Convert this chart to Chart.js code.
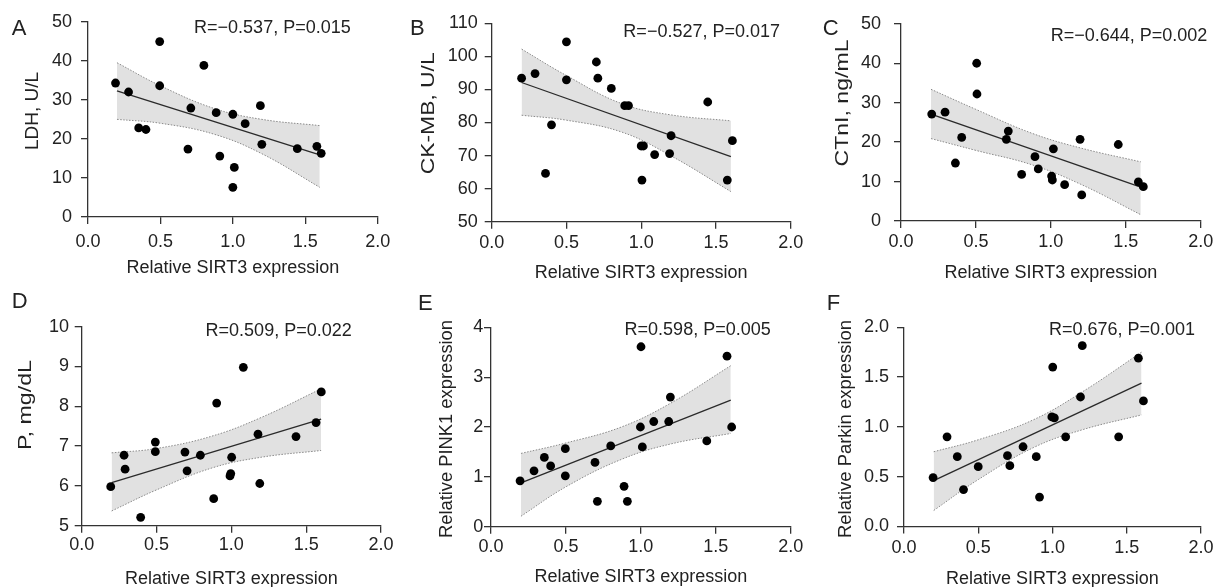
<!DOCTYPE html>
<html><head><meta charset="utf-8">
<script src="https://cdn.jsdelivr.net/npm/chart.js@4.4.1/dist/chart.umd.min.js"></script>
<style>
html,body{margin:0;padding:0;background:#fff;}
body{width:1217px;height:587px;position:relative;overflow:hidden;}
canvas{position:absolute;}
</style></head><body>
<script>
// ---------- data ----------
const xTickValues = [0, 0.5, 1, 1.5, 2];
const xTickLabels = ['0.0', '0.5', '1.0', '1.5', '2.0'];
const xTitle = 'Relative SIRT3 expression';

const fitX  = [0.2, 1.6];
const bandX = [0.2, 0.5, 0.87, 1.2, 1.6];

// A: LDH
const ldhX = [0.19,0.28,0.35,0.40,0.495,0.495,0.69,0.71,0.80,0.885,0.91,1.0,1.01,1.0,1.085,1.19,1.20,1.445,1.58,1.61];
const ldhY = [34.3,32.0,22.8,22.4,44.9,33.6,17.4,27.9,38.8,26.7,15.6,26.3,12.7,7.6,23.9,28.5,18.6,17.5,18.1,16.3];
const ldhFit = [32.3, 15.9];
const ldhUpper = [39.5, 33.6, 27.8, 25.0, 23.4];
const ldhLower = [25.0, 24.0, 21.2, 16.2, 7.6];
const ldhTicks = [0, 10, 20, 30, 40, 50];
const ldhTickLabels = ['0', '10', '20', '30', '40', '50'];

// B: CK-MB
const ckmbX = [0.20,0.29,0.36,0.40,0.50,0.50,0.70,0.71,0.80,0.89,0.915,1.0,1.015,1.005,1.09,1.19,1.20,1.445,1.576,1.61];
const ckmbY = [93.4,94.8,64.6,79.3,104.4,92.9,98.3,93.4,90.3,85.1,85.1,72.9,72.9,62.6,70.3,70.6,76.0,86.2,62.6,74.5];
const ckmbFit = [92.1, 69.7];
const ckmbUpper = [102.2, 94.2, 85.7, 82.3, 80.5];
const ckmbLower = [82.2, 80.7, 77.1, 69.9, 59.1];
const ckmbTicks = [50, 60, 70, 80, 90, 100, 110];
const ckmbTickLabels = ['50', '60', '70', '80', '90', '100', '110'];

// C: CTnI
const ctniX = [0.205,0.294,0.363,0.405,0.505,0.507,0.703,0.716,0.805,0.894,0.916,1.005,1.01,1.017,1.092,1.195,1.206,1.45,1.584,1.617];
const ctniY = [27.1,27.6,14.7,21.2,40.0,32.2,20.7,22.8,11.8,16.3,13.2,11.4,10.4,18.3,9.2,20.7,6.6,19.4,9.9,8.7];
const ctniFit = [27.1, 8.6];
const ctniUpper = [33.4, 28.3, 22.3, 18.5, 15.0];
const ctniLower = [20.9, 17.9, 14.3, 9.3, 1.6];
const ctniTicks = [0, 10, 20, 30, 40, 50];
const ctniTickLabels = ['0', '10', '20', '30', '40', '50'];

// D: P
const phosX = [0.194,0.283,0.29,0.394,0.492,0.492,0.69,0.704,0.793,0.882,0.902,0.991,0.996,1.002,1.08,1.178,1.19,1.432,1.566,1.601];
const phosY = [5.98,6.77,6.42,5.21,7.10,6.86,6.85,6.38,6.77,5.68,8.08,6.25,6.31,6.72,8.98,7.30,6.06,7.24,7.59,8.36];
const phosFit = [6.08, 7.68];
const phosUpper = [6.83, 6.94, 7.25, 7.72, 8.44];
const phosLower = [5.37, 5.90, 6.45, 6.72, 6.89];
const phosTicks = [5, 6, 7, 8, 9, 10];
const phosTickLabels = ['5', '6', '7', '8', '9', '10'];

// E: PINK1
const pink1X = [0.194,0.287,0.356,0.398,0.496,0.496,0.694,0.71,0.799,0.888,0.91,0.997,1.01,1.001,1.086,1.186,1.197,1.44,1.575,1.606];
const pink1Y = [0.92,1.12,1.39,1.22,1.565,1.02,1.29,0.51,1.62,0.81,0.51,2.0,1.60,3.61,2.11,2.11,2.60,1.72,3.42,2.0];
const pink1Fit = [0.88, 2.54];
const pink1Upper = [1.47, 1.68, 2.0, 2.48, 3.23];
const pink1Lower = [0.21, 0.80, 1.35, 1.66, 1.87];
const pink1Ticks = [0, 1, 2, 3, 4];
const pink1TickLabels = ['0', '1', '2', '3', '4'];

// F: Parkin
const parkinX = [0.196,0.29,0.359,0.401,0.50,0.697,0.713,0.802,0.891,0.913,1.002,0.996,1.013,1.089,1.189,1.201,1.446,1.579,1.613];
const parkinY = [0.49,0.90,0.70,0.37,0.60,0.71,0.61,0.80,0.70,0.295,1.60,1.10,1.09,0.90,1.30,1.815,0.90,1.69,1.26];
const parkinFit = [0.46, 1.44];
const parkinUpper = [0.75, 0.87, 1.07, 1.35, 1.75];
const parkinLower = [0.16, 0.47, 0.79, 0.97, 1.12];
const parkinTicks = [0, 0.5, 1, 1.5, 2];
const parkinTickLabels = ['0.0', '0.5', '1.0', '1.5', '2.0'];

const letters = ['A', 'B', 'C', 'D', 'E', 'F'];
const yTitles = ['LDH, U/L', 'CK-MB, U/L', 'CTnI, ng/mL', 'P, mg/dL', 'Relative PINK1 expression', 'Relative Parkin expression'];
const stats = ['R=\u22120.537, P=0.015', 'R=\u22120.527, P=0.017', 'R=\u22120.644, P=0.002', 'R=0.509, P=0.022', 'R=0.598, P=0.005', 'R=0.676, P=0.001'];

const series = [
  {xs: ldhX,    ys: ldhY,    fit: ldhFit,    up: ldhUpper,    lo: ldhLower,    ticks: ldhTicks,    labels: ldhTickLabels},
  {xs: ckmbX,   ys: ckmbY,   fit: ckmbFit,   up: ckmbUpper,   lo: ckmbLower,   ticks: ckmbTicks,   labels: ckmbTickLabels},
  {xs: ctniX,   ys: ctniY,   fit: ctniFit,   up: ctniUpper,   lo: ctniLower,   ticks: ctniTicks,   labels: ctniTickLabels},
  {xs: phosX,   ys: phosY,   fit: phosFit,   up: phosUpper,   lo: phosLower,   ticks: phosTicks,   labels: phosTickLabels},
  {xs: pink1X,  ys: pink1Y,  fit: pink1Fit,  up: pink1Upper,  lo: pink1Lower,  ticks: pink1Ticks,  labels: pink1TickLabels},
  {xs: parkinX, ys: parkinY, fit: parkinFit, up: parkinUpper, lo: parkinLower, ticks: parkinTicks, labels: parkinTickLabels},
];

// ---------- layout (page pixel positions) ----------
const layout = [
  {left:0,   top:0,   w:400, L:88,    T:21.7,  R:377.7,  B:216.7, Hx:62,   yPad:9,   xPad:7,   yTitleAt:[33,111],    yTitleLen:78,  statAt:[350.7,33.3],  letterAt:[11.7,35]},
  {left:400, top:0,   w:410, L:491.7, T:23.3,  R:790.7,  B:221.7, Hx:62.3, yPad:7,   xPad:4,   yTitleAt:[429,113.3], yTitleLen:122, statAt:[780,37.3],    letterAt:[410,35]},
  {left:810, top:0,   w:407, L:901,   T:23.3,  R:1200.7, B:221,   Hx:63,   yPad:13,  xPad:3,   yTitleAt:[843.3,103], yTitleLen:127, statAt:[1207.3,40.7], letterAt:[822.7,35]},
  {left:0,   top:290, w:400, L:81.7,  T:326.7, R:381,    B:525.3, Hx:64.3, yPad:5.7, xPad:2,   yTitleAt:[26.2,405],  yTitleLen:90,  statAt:[351.7,335.7], letterAt:[11.7,308.3]},
  {left:400, top:290, w:410, L:491,   T:327.3, R:790.7,  B:526.7, Hx:61.3, yPad:0.7, xPad:2.2, yTitleAt:[447.5,429], yTitleLen:218, statAt:[770.7,335],   letterAt:[418,310]},
  {left:810, top:290, w:407, L:904,   T:327.3, R:1203.3, B:526,   Hx:63.6, yPad:8,   xPad:3.6, yTitleAt:[846,429],   yTitleLen:218, statAt:[1195,335],    letterAt:[826.7,310]},
];

const FONT = '"Liberation Sans", Arial, Helvetica, sans-serif';
const TEXT = '#222';
const AXIS = '#333';
Chart.defaults.font.family = FONT;
Chart.defaults.font.size = 18;
Chart.defaults.color = TEXT;

function pairs(xs, ys) { return xs.map((x, i) => ({x: x, y: ys[i]})); }

function makePanel(i) {
  const s = series[i], p = layout[i];
  const Wy = 50;
  const H = Math.ceil(p.B + p.Hx - p.top);
  const cv = document.createElement('canvas');
  cv.width = p.w; cv.height = H;
  cv.style.left = p.left + 'px'; cv.style.top = p.top + 'px';
  cv.style.width = p.w + 'px'; cv.style.height = H + 'px';
  document.body.appendChild(cv);

  const textPlugin = {
    id: 'panelText' + i,
    afterDraw(chart) {
      const c = chart.ctx;
      c.save();
      c.fillStyle = TEXT;
      c.font = '18px ' + FONT;
      // rotated y-axis title, stretched along its baseline to the measured length
      c.save();
      c.translate(p.yTitleAt[0] - p.left, p.yTitleAt[1] - p.top);
      c.rotate(-Math.PI / 2);
      const natural = c.measureText(yTitles[i]).width;
      c.scale(p.yTitleLen / natural, 1);
      c.textAlign = 'center'; c.textBaseline = 'middle';
      c.fillText(yTitles[i], 0, 0);
      c.restore();
      c.textAlign = 'right'; c.textBaseline = 'alphabetic';
      c.fillText(stats[i], p.statAt[0] - p.left, p.statAt[1] - p.top);
      c.font = '22px ' + FONT;
      c.textAlign = 'left';
      c.fillText(letters[i], p.letterAt[0] - p.left, p.letterAt[1] - p.top);
      c.restore();
    }
  };

  const gridOpts = {display: true, drawOnChartArea: false, drawTicks: true, tickLength: 7, color: AXIS, lineWidth: 1.3};
  const borderOpts = {display: true, color: AXIS, width: 1.3};

  new Chart(cv, {
    type: 'scatter',
    data: {datasets: [
      {type: 'scatter', data: pairs(s.xs, s.ys), backgroundColor: '#000', borderColor: '#000', pointRadius: 4.4, borderWidth: 0, order: 0},
      {type: 'line', data: pairs(fitX, s.fit), showLine: true, borderColor: '#2a2a2a', borderWidth: 1.3, pointRadius: 0, fill: false, order: 1},
      {type: 'line', data: pairs(bandX, s.up), showLine: true, borderColor: '#8a8a8a', borderWidth: 1, borderDash: [1.5, 1.5], pointRadius: 0, tension: 0.4, fill: '+1', backgroundColor: '#e1e1e1', order: 2},
      {type: 'line', data: pairs(bandX, s.lo), showLine: true, borderColor: '#8a8a8a', borderWidth: 1, borderDash: [1.5, 1.5], pointRadius: 0, tension: 0.4, fill: false, order: 3},
    ]},
    options: {
      responsive: false,
      animation: false,
      events: [],
      layout: {padding: {left: p.L - p.left - Wy, top: p.T - p.top, right: p.left + p.w - p.R, bottom: 0}},
      plugins: {legend: {display: false}, tooltip: {enabled: false}, filler: {drawTime: 'beforeDatasetsDraw'}},
      scales: {
        x: {
          type: 'linear', position: 'bottom', min: xTickValues[0], max: xTickValues[xTickValues.length - 1],
          afterBuildTicks: sc => { sc.ticks = xTickValues.map(v => ({value: v})); },
          afterFit: sc => { sc.height = p.Hx; },
          ticks: {callback: (v, k) => xTickLabels[k], padding: p.xPad, maxRotation: 0, autoSkip: false, color: TEXT, font: {size: 18}},
          grid: gridOpts, border: borderOpts,
          title: {display: true, text: xTitle, color: TEXT, font: {size: 18}, padding: 0}
        },
        y: {
          type: 'linear', position: 'left', min: s.ticks[0], max: s.ticks[s.ticks.length - 1],
          afterBuildTicks: sc => { sc.ticks = s.ticks.map(v => ({value: v})); },
          afterFit: sc => { sc.width = Wy; },
          ticks: {callback: (v, k) => s.labels[k], padding: p.yPad, autoSkip: false, color: TEXT, font: {size: 18}},
          grid: gridOpts, border: borderOpts
        }
      }
    },
    plugins: [textPlugin]
  });
}

for (let i = 0; i < 6; i++) makePanel(i);
</script>
</body></html>
